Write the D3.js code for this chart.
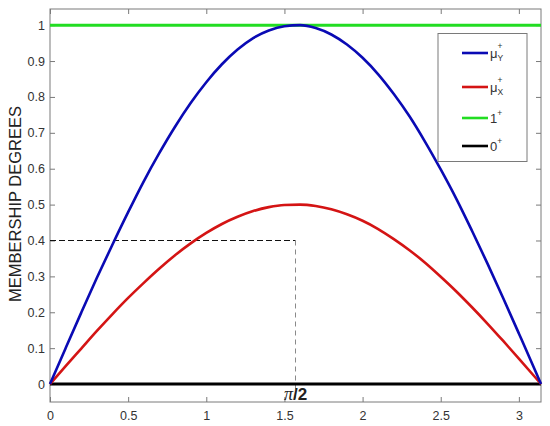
<!DOCTYPE html>
<html><head><meta charset="utf-8">
<script src="https://cdn.jsdelivr.net/npm/d3@7"></script>
<style>body{margin:0;background:#fff;} svg{display:block;font-family:"Liberation Sans",Arial,sans-serif;}</style>
</head><body><svg id="c" width="550" height="426"></svg>
<script>
const xs = [0,0.1,0.2,0.3,0.4,0.5,0.6,0.7,0.8,0.9,1.0,1.1,1.2,1.3,1.4,1.5,1.6,1.7,1.8,1.9,2.0,2.1,2.2,2.3,2.4,2.5,2.6,2.7,2.8,2.9,3.0,3.1,3.1416];
const muY = [0,0.100,0.199,0.296,0.389,0.479,0.565,0.644,0.717,0.783,0.841,0.891,0.932,0.964,0.985,0.997,1.000,0.992,0.974,0.946,0.909,0.863,0.808,0.746,0.675,0.598,0.516,0.427,0.335,0.239,0.141,0.042,0];
const muX = [0,0.050,0.099,0.148,0.195,0.240,0.282,0.322,0.359,0.392,0.421,0.446,0.466,0.482,0.493,0.499,0.500,0.496,0.487,0.473,0.455,0.432,0.404,0.373,0.338,0.299,0.258,0.214,0.168,0.120,0.071,0.021,0];
const oneLine = [1,1];
const zeroLine = [0,0];
const xTicks = [0,0.5,1,1.5,2,2.5,3];
const yTicks = [0,0.1,0.2,0.3,0.4,0.5,0.6,0.7,0.8,0.9,1];
const refX = 1.5708, refY = 0.4;
const legendItems = [
  {name:"μ", sub:"Y", color:"#0a0ab4"},
  {name:"μ", sub:"X", color:"#d41414"},
  {name:"1", sub:"", color:"#22dd22"},
  {name:"0", sub:"", color:"#000000"}
];

const svg = d3.select("#c");
const L=50, R=541, T=9, B=402;
const x = d3.scaleLinear().domain([0,3.1416]).range([L,R]);
const y = d3.scaleLinear().domain([-0.05,1.045]).range([B,T]);
const axisColor="#7a7a7a", textColor="#333";

svg.append("rect").attr("x",L).attr("y",T).attr("width",R-L).attr("height",B-T)
  .attr("fill","none").attr("stroke",axisColor).attr("stroke-width",1);

function styleAxis(g){
  g.select(".domain").remove();
  g.selectAll(".tick line").attr("stroke",axisColor);
  g.selectAll(".tick text").attr("fill",textColor).attr("font-size",12.5);
}
svg.append("g").attr("transform",`translate(0,${B})`)
  .call(d3.axisBottom(x).tickValues(xTicks).tickSizeInner(-5).tickSizeOuter(0).tickPadding(9).tickFormat(d3.format("")))
  .call(styleAxis);
svg.append("g").attr("transform",`translate(0,${T})`)
  .call(d3.axisTop(x).tickValues(xTicks).tickSizeInner(-5).tickSizeOuter(0).tickFormat(""))
  .call(styleAxis);
svg.append("g").attr("transform",`translate(${L},0)`)
  .call(d3.axisLeft(y).tickValues(yTicks).tickSizeInner(-5).tickSizeOuter(0).tickPadding(5).tickFormat(d3.format("")))
  .call(styleAxis);
svg.append("g").attr("transform",`translate(${R},0)`)
  .call(d3.axisRight(y).tickValues(yTicks).tickSizeInner(-5).tickSizeOuter(0).tickFormat(""))
  .call(styleAxis);

svg.append("text").attr("transform",`translate(21,204) rotate(-90)`).attr("text-anchor","middle")
  .attr("font-size",16.5).attr("fill","#222").text("MEMBERSHIP DEGREES");

svg.append("line").attr("x1",x(0)).attr("x2",x(refX)).attr("y1",y(refY)).attr("y2",y(refY))
  .attr("stroke","#111").attr("stroke-width",1.2).attr("stroke-dasharray","6,3");
svg.append("line").attr("x1",x(refX)).attr("x2",x(refX)).attr("y1",y(refY)).attr("y2",y(-0.05))
  .attr("stroke","#8a8a8a").attr("stroke-width",1).attr("stroke-dasharray","5,4");

const line = d3.line().x(d=>x(d[0])).y(d=>y(d[1])).curve(d3.curveMonotoneX);
svg.append("path").datum([[0,oneLine[0]],[3.1416,oneLine[1]]]).attr("d",line)
  .attr("fill","none").attr("stroke",legendItems[2].color).attr("stroke-width",3);
svg.append("path").datum([[0,zeroLine[0]],[3.1416,zeroLine[1]]]).attr("d",line)
  .attr("fill","none").attr("stroke",legendItems[3].color).attr("stroke-width",3);
svg.append("path").datum(xs.map((v,i)=>[v,muX[i]])).attr("d",line)
  .attr("fill","none").attr("stroke",legendItems[1].color).attr("stroke-width",2.6);
svg.append("path").datum(xs.map((v,i)=>[v,muY[i]])).attr("d",line)
  .attr("fill","none").attr("stroke",legendItems[0].color).attr("stroke-width",2.6);

svg.append("text").attr("x",x(refX)).attr("y",B-2).attr("text-anchor","middle")
  .attr("font-size",17).attr("font-weight","bold").attr("fill","#222")
  .html('<tspan font-style="italic" font-weight="normal" font-family="Liberation Serif, serif" font-size="18">π</tspan>/2');

const lg = svg.append("g");
lg.append("rect").attr("x",438).attr("y",33.5).attr("width",89).attr("height",128)
  .attr("fill","#fff").attr("stroke",axisColor).attr("stroke-width",1);
const ly = [53,87,118,146];
legendItems.forEach((it,i)=>{
  lg.append("line").attr("x1",462).attr("x2",488).attr("y1",ly[i]).attr("y2",ly[i])
    .attr("stroke",it.color).attr("stroke-width",2.6);
  const t = lg.append("text").attr("x",490).attr("y",ly[i]+5).attr("font-size",13).attr("fill","#333").text(it.name);
  const w = t.node().getComputedTextLength();
  if(it.sub){
    lg.append("text").attr("x",490+w).attr("y",ly[i]-4).attr("font-size",8.5).attr("fill","#333").text("+");
    lg.append("text").attr("x",490+w).attr("y",ly[i]+8).attr("font-size",8.5).attr("fill","#333").text(it.sub);
  } else {
    lg.append("text").attr("x",490+w).attr("y",ly[i]-2).attr("font-size",8.5).attr("fill","#333").text("+");
  }
});
</script></body></html>
